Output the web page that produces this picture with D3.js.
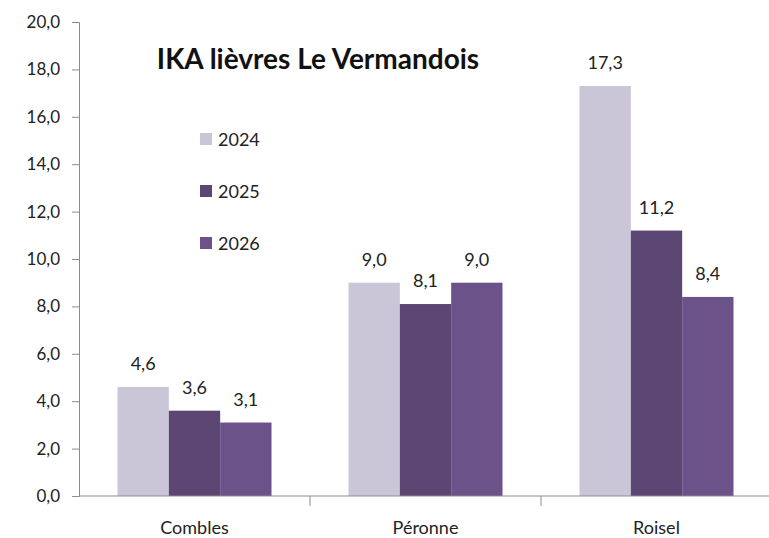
<!DOCTYPE html>
<html>
<head>
<meta charset="utf-8">
<script src="https://cdn.jsdelivr.net/npm/d3@7"></script>
<style>
  body { margin: 0; background: #fff; }
  svg { display: block; font-family: Lato, "Open Sans", sans-serif; }
</style>
</head>
<body>
<div class="container"></div>
<script>
const sites = ['Combles', 'Péronne', 'Roisel'];
const years = ['2024', '2025', '2026'];
const v2024 = [4.6, 9.0, 17.3];
const v2025 = [3.6, 8.1, 11.2];
const v2026 = [3.1, 9.0, 8.4];
const yTicks = [0, 2, 4, 6, 8, 10, 12, 14, 16, 18, 20];
const colors = ['#cbc5d8', '#5c4674', '#6b5289'];

const width = 769, height = 538;
const series = [v2024, v2025, v2026];
const fmt = v => v.toFixed(1).replace('.', ',');

const svg = d3.select('.container')
    .append('svg')
    .attr('width', width)
    .attr('height', height);

const x = d3.scaleBand().domain(sites).range([79, 772]).paddingInner(0).paddingOuter(0);
const xYear = d3.scaleBand().domain(years).range([0, x.bandwidth()]).paddingInner(0).paddingOuter(0.75);
const y = d3.scaleLinear().domain([0, 20]).range([496, 22]);

// y axis
const yAxis = svg.append('g')
    .attr('transform', 'translate(79,0)')
    .call(d3.axisLeft(y).tickValues(yTicks).tickFormat(fmt).tickSize(7).tickPadding(12));
yAxis.selectAll('text').attr('font-size', 17).attr('fill', '#222').attr('font-family', 'Lato, sans-serif');
yAxis.selectAll('line, path').attr('stroke', '#8c8c8c');

// bars
const groups = svg.selectAll('g.site')
    .data(sites)
    .enter()
    .append('g')
    .attr('class', 'site')
    .attr('transform', d => `translate(${x(d)},0)`);

groups.selectAll('rect')
    .data((d, i) => years.map((yr, j) => ({ year: yr, value: series[j][i], idx: j })))
    .enter()
    .append('rect')
    .attr('x', d => xYear(d.year))
    .attr('y', d => y(d.value))
    .attr('width', xYear.bandwidth())
    .attr('height', d => y(0) - y(d.value))
    .attr('fill', d => colors[d.idx]);

groups.selectAll('text.val')
    .data((d, i) => years.map((yr, j) => ({ year: yr, value: series[j][i] })))
    .enter()
    .append('text')
    .attr('class', 'val')
    .attr('x', d => xYear(d.year) + xYear.bandwidth() / 2)
    .attr('y', d => y(d.value) - 17)
    .attr('text-anchor', 'middle')
    .attr('font-size', 18)
    .attr('fill', '#222')
    .text(d => fmt(d.value));

// x axis
const xAxis = svg.append('g')
    .attr('transform', 'translate(0,496)');
xAxis.append('line')
    .attr('x1', 79).attr('x2', 772)
    .attr('stroke', '#8c8c8c');
xAxis.selectAll('line.tick')
    .data(sites.slice(1))
    .enter()
    .append('line')
    .attr('x1', d => x(d)).attr('x2', d => x(d))
    .attr('y1', 0).attr('y2', 10)
    .attr('stroke', '#8c8c8c');
xAxis.selectAll('text')
    .data(sites)
    .enter()
    .append('text')
    .attr('x', d => x(d) + x.bandwidth() / 2)
    .attr('y', 38)
    .attr('text-anchor', 'middle')
    .attr('font-size', 18)
    .attr('fill', '#222')
    .text(d => d);

// title
svg.append('text')
    .attr('x', 318)
    .attr('y', 69)
    .attr('text-anchor', 'middle')
    .attr('font-size', 28)
    .attr('font-weight', 'bold')
    .attr('fill', '#111')
    .text('IKA lièvres Le Vermandois');

// legend
const legend = svg.selectAll('g.legend')
    .data(years)
    .enter()
    .append('g')
    .attr('class', 'legend')
    .attr('transform', (d, i) => `translate(200,${139 + i * 52})`);
legend.append('rect')
    .attr('x', 0).attr('y', -6)
    .attr('width', 12).attr('height', 12)
    .attr('fill', (d, i) => colors[i]);
legend.append('text')
    .attr('x', 18)
    .attr('y', 7)
    .attr('font-size', 18)
    .attr('fill', '#222')
    .text(d => d);
</script>
</body>
</html>
